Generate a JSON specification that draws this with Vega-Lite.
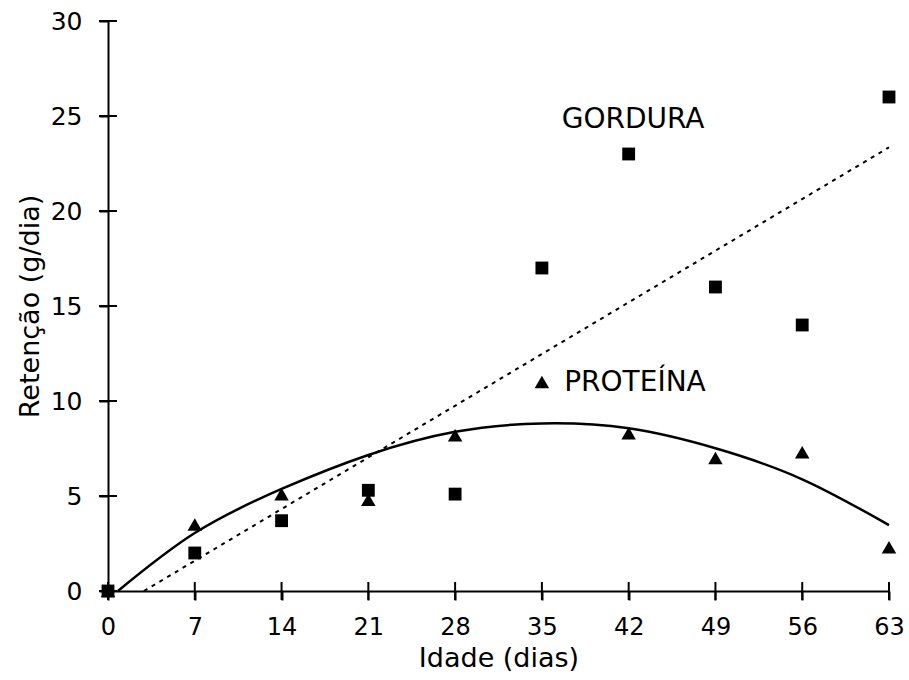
{
  "$schema": "https://vega.github.io/schema/vega-lite/v6.json",
  "width": 781,
  "height": 570,
  "autosize": {"type": "none"},
  "padding": {"left": 108, "top": 21, "right": 20, "bottom": 89},
  "background": "white",
  "config": {
    "font": "DejaVu Sans",
    "view": {"stroke": null},
    "axis": {"grid": false, "domainColor": "black", "domainWidth": 2, "tickColor": "black", "tickWidth": 2, "tickSize": 9,
      "labelFontSize": 25, "labelColor": "black", "labelFlush": false,
      "titleFontSize": 27, "titleFontWeight": "normal", "titleColor": "black"},
    "axisX": {"labelFontSize": 24, "labelPadding": 15, "titlePadding": 6},
    "axisY": {"labelPadding": 17, "titlePadding": 6}
  },
  "datasets": {
    "pts": [
      {"idade": 0, "ret": 0, "serie": "GORDURA"},
      {"idade": 7, "ret": 2, "serie": "GORDURA"},
      {"idade": 14, "ret": 3.7, "serie": "GORDURA"},
      {"idade": 21, "ret": 5.3, "serie": "GORDURA"},
      {"idade": 28, "ret": 5.1, "serie": "GORDURA"},
      {"idade": 35, "ret": 17, "serie": "GORDURA"},
      {"idade": 42, "ret": 23, "serie": "GORDURA"},
      {"idade": 49, "ret": 16, "serie": "GORDURA"},
      {"idade": 56, "ret": 14, "serie": "GORDURA"},
      {"idade": 63, "ret": 26, "serie": "GORDURA"},
      {"idade": 0, "ret": 0, "serie": "PROTEÍNA"},
      {"idade": 7, "ret": 3.5, "serie": "PROTEÍNA"},
      {"idade": 14, "ret": 5.1, "serie": "PROTEÍNA"},
      {"idade": 21, "ret": 4.8, "serie": "PROTEÍNA"},
      {"idade": 28, "ret": 8.2, "serie": "PROTEÍNA"},
      {"idade": 35, "ret": 11, "serie": "PROTEÍNA"},
      {"idade": 42, "ret": 8.3, "serie": "PROTEÍNA"},
      {"idade": 49, "ret": 7, "serie": "PROTEÍNA"},
      {"idade": 56, "ret": 7.3, "serie": "PROTEÍNA"},
      {"idade": 63, "ret": 2.3, "serie": "PROTEÍNA"}
    ],
    "curva": [
      {"idade": 0.8, "ret": 0},
      {"idade": 7, "ret": 3.05},
      {"idade": 14, "ret": 5.37},
      {"idade": 21, "ret": 7.16},
      {"idade": 28, "ret": 8.38},
      {"idade": 35, "ret": 8.82},
      {"idade": 42, "ret": 8.56},
      {"idade": 49, "ret": 7.51},
      {"idade": 56, "ret": 5.88},
      {"idade": 63, "ret": 3.47}
    ],
    "reta": [
      {"idade": 2.9, "ret": 0},
      {"idade": 63, "ret": 23.35}
    ],
    "rotulos": [
      {"idade": 36.6, "ret": 24.8, "txt": "GORDURA"},
      {"idade": 36.8, "ret": 10.95, "txt": "PROTEÍNA"}
    ],
    "marcasX": [
      {"idade": 0}, {"idade": 7}, {"idade": 14}, {"idade": 21}, {"idade": 28}, {"idade": 35}, {"idade": 42}, {"idade": 49}, {"idade": 56}, {"idade": 63}
    ],
    "marcasY": [
      {"ret": 0}, {"ret": 5}, {"ret": 10}, {"ret": 15}, {"ret": 20}, {"ret": 25}, {"ret": 30}
    ]
  },
  "layer": [
    {
      "data": {"name": "reta"},
      "mark": {"type": "line", "color": "black", "strokeWidth": 2, "strokeDash": [4, 5], "clip": false},
      "encoding": {
        "x": {"field": "idade", "type": "quantitative", "title": "Idade (dias)", "scale": {"domain": [0, 63], "nice": false},
          "axis": {"values": [0, 7, 14, 21, 28, 35, 42, 49, 56, 63]}},
        "y": {"field": "ret", "type": "quantitative", "title": "Retenção (g/dia)", "scale": {"domain": [0, 30], "nice": false},
          "axis": {"values": [0, 5, 10, 15, 20, 25, 30]}}
      }
    },
    {
      "data": {"name": "marcasX"},
      "mark": {"type": "tick", "orient": "vertical", "size": 18, "thickness": 2, "color": "black", "opacity": 1, "clip": false},
      "encoding": {
        "x": {"field": "idade", "type": "quantitative", "title": "Idade (dias)"},
        "y": {"datum": 0, "type": "quantitative", "title": "Retenção (g/dia)"}
      }
    },
    {
      "data": {"name": "marcasY"},
      "mark": {"type": "tick", "orient": "horizontal", "size": 18, "thickness": 2, "color": "black", "opacity": 1, "clip": false},
      "encoding": {
        "y": {"field": "ret", "type": "quantitative", "title": "Retenção (g/dia)"},
        "x": {"datum": 0, "type": "quantitative", "title": "Idade (dias)"}
      }
    },
    {
      "data": {"name": "curva"},
      "mark": {"type": "line", "color": "black", "strokeWidth": 2.5, "interpolate": "natural", "clip": false},
      "encoding": {
        "x": {"field": "idade", "type": "quantitative", "title": "Idade (dias)"},
        "y": {"field": "ret", "type": "quantitative", "title": "Retenção (g/dia)"}
      }
    },
    {
      "data": {"name": "pts"},
      "mark": {"type": "point", "filled": true, "opacity": 1, "color": "black", "clip": false},
      "encoding": {
        "x": {"field": "idade", "type": "quantitative", "title": "Idade (dias)"},
        "y": {"field": "ret", "type": "quantitative", "title": "Retenção (g/dia)"},
        "shape": {"field": "serie", "type": "nominal",
          "scale": {"domain": ["GORDURA", "PROTEÍNA"], "range": ["square", "triangle-up"]}, "legend": null},
        "size": {"field": "serie", "type": "nominal",
          "scale": {"domain": ["GORDURA", "PROTEÍNA"], "range": [165, 210]}, "legend": null}
      }
    },
    {
      "data": {"name": "rotulos"},
      "mark": {"type": "text", "fontSize": 28, "color": "black", "baseline": "middle", "align": "left"},
      "encoding": {
        "x": {"field": "idade", "type": "quantitative", "title": "Idade (dias)"},
        "y": {"field": "ret", "type": "quantitative", "title": "Retenção (g/dia)"},
        "text": {"field": "txt"}
      }
    }
  ]
}
